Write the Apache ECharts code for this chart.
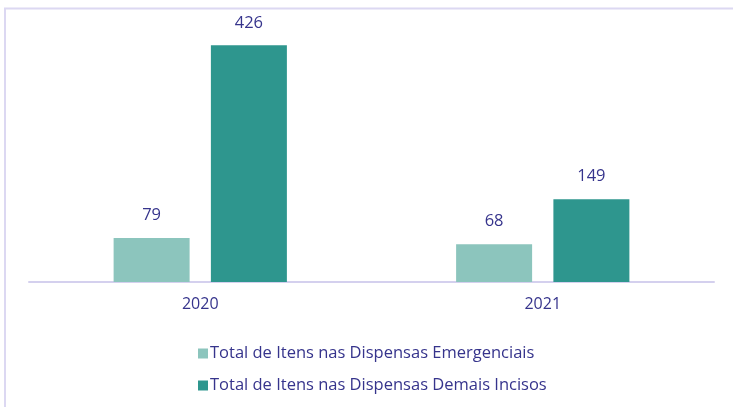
<!DOCTYPE html>
<html><head><meta charset="utf-8">
<script src="https://cdn.jsdelivr.net/npm/echarts@6/dist/echarts.min.js"></script>
<style>html,body{margin:0;padding:0;background:#fff}#c{width:733px;height:407px}</style>
</head><body><div id="c"></div>
<script>
const categories = ['2020', '2021'];
const seriesNames = ['Total de Itens nas Dispensas Emergenciais', 'Total de Itens nas Dispensas Demais Incisos'];
const emergenciais = [79, 68];
const demaisIncisos = [426, 149];
const colors = ['#8cc5bd', '#2e968e'];
const textColor = '#36348c';
const font = '"Open Sans"';

const chart = echarts.init(document.getElementById('c'));
chart.setOption({
  animation: false,
  graphic: [{
    type: 'rect', silent: true,
    shape: { x: 5, y: 8.5, width: 760, height: 420 },
    style: { fill: 'none', stroke: '#dcd8f2', lineWidth: 2 }
  }],
  grid: { left: 29, right: 19, top: 32, bottom: 125 },
  legend: {
    orient: 'vertical', left: 193, top: 340, itemGap: 15,
    itemWidth: 10, itemHeight: 10, icon: 'rect',
    textStyle: { color: textColor, fontFamily: font, fontSize: 16.5, padding: [0, 0, 0, -3] },
    data: seriesNames
  },
  xAxis: {
    type: 'category', data: categories,
    axisLine: { lineStyle: { color: '#d4d0ee', width: 2 } },
    axisTick: { show: false },
    axisLabel: { color: textColor, fontFamily: font, fontSize: 16, margin: 14 }
  },
  yAxis: { type: 'value', min: 0, max: 450, show: false, splitLine: { show: false } },
  series: [
    { name: seriesNames[0], type: 'bar', data: emergenciais, barWidth: 76, barGap: '28%',
      itemStyle: { color: colors[0] },
      label: { show: true, position: 'top', distance: 14, color: textColor, fontFamily: font, fontSize: 16.5 } },
    { name: seriesNames[1], type: 'bar', data: demaisIncisos, barWidth: 76,
      itemStyle: { color: colors[1] },
      label: { show: true, position: 'top', distance: 14, color: textColor, fontFamily: font, fontSize: 16.5 } }
  ]
});
</script></body></html>
